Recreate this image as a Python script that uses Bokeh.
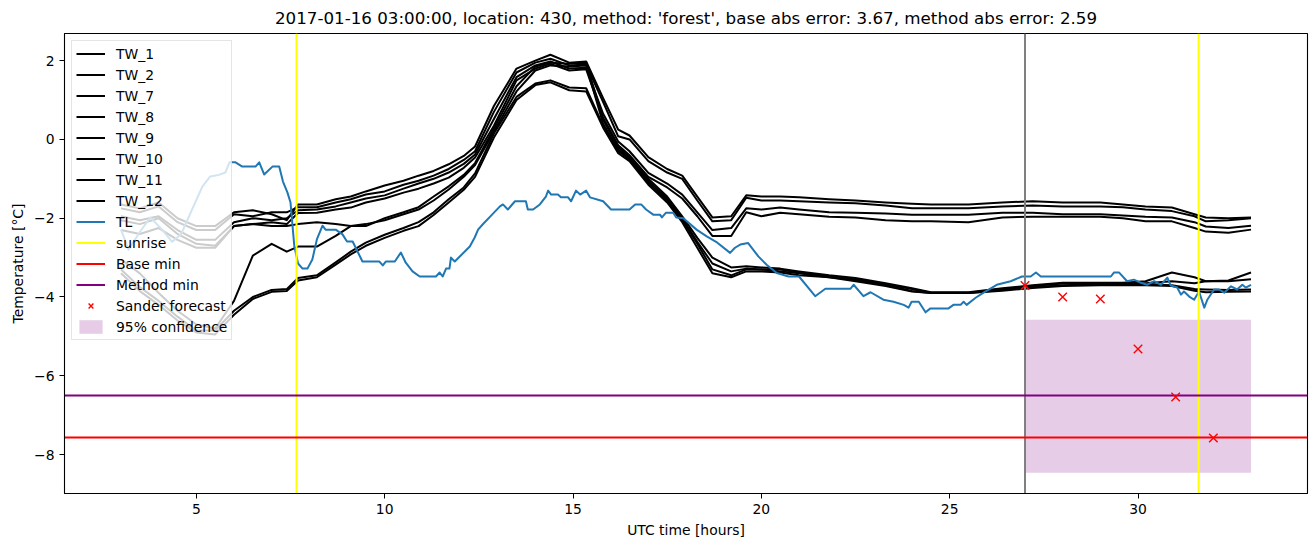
from bokeh.plotting import figure
from bokeh.models import Range1d, FixedTicker, Legend, LegendItem
from bokeh.embed import file_html
from bokeh.resources import INLINE

TITLE = "2017-01-16 03:00:00, location: 430, method: 'forest', base abs error: 3.67, method abs error: 2.59"

# ---- data (hours since 2017-01-15 00:00 UTC, temperatures in deg C) ----
TW_T = [3.0, 3.5, 4.0, 4.5, 5.0, 5.5, 6.0, 6.5, 7.0, 7.4, 7.7, 8.2, 8.7, 9.1, 9.5, 10.0,
        10.5, 10.9, 11.3, 11.7, 12.1, 12.4, 12.9, 13.5, 14.0, 14.4, 14.9, 15.35, 15.8,
        16.2, 16.5, 17.0, 17.5, 17.9, 18.3, 18.7, 19.2, 19.6, 20.0, 20.5, 21.0, 21.8,
        22.5, 23.3, 24.0, 24.5, 25.5, 26.4, 27.2, 28.0, 29.0, 29.6, 30.2, 30.9, 31.5,
        31.8, 32.4, 33.0]

TW_1 = [-1.65, -1.75, -1.6, -2.0, -2.2, -2.2, -1.85, -1.8, -1.9, -2.05, -1.65, -1.65, -1.52,
        -1.45, -1.32, -1.17, -1.05, -0.92, -0.8, -0.63, -0.42, -0.18, 0.85, 1.8, 2.0, 2.15,
        1.95, 1.98, 1.05, 0.25, 0.1, -0.45, -0.75, -0.92, -1.45, -1.98, -1.95, -1.42, -1.45,
        -1.45, -1.47, -1.52, -1.55, -1.6, -1.63, -1.65, -1.65, -1.6, -1.57, -1.6, -1.6, -1.65,
        -1.7, -1.73, -1.9, -1.98, -2.0, -1.98]
TW_2 = [-1.75, -1.85, -1.7, -2.1, -2.3, -2.3, -1.9, -1.95, -1.85, -1.85, -1.72, -1.72, -1.6,
        -1.52, -1.4, -1.32, -1.15, -1.05, -0.92, -0.75, -0.52, -0.3, 0.7, 1.7, 1.95, 2.05,
        1.88, 1.9, 0.95, 0.08, 0.0, -0.55, -0.84, -1.0, -1.55, -2.08, -2.05, -1.48, -1.55,
        -1.55, -1.57, -1.6, -1.62, -1.68, -1.75, -1.75, -1.75, -1.7, -1.68, -1.7, -1.7, -1.72,
        -1.78, -1.82, -1.95, -2.08, -2.05, -2.0]
TW_7 = [-1.95, -2.05, -1.95, -2.3, -2.55, -2.55, -2.1, -2.0, -2.05, -2.0, -1.8, -1.78, -1.7,
        -1.6, -1.5, -1.42, -1.25, -1.12, -1.0, -0.84, -0.62, -0.38, 0.52, 1.58, 1.88, 1.98,
        1.8, 1.82, 0.65, -0.05, -0.3, -0.85, -1.12, -1.4, -1.85, -2.3, -2.25, -1.75, -1.78,
        -1.73, -1.78, -1.85, -1.86, -1.88, -1.91, -1.91, -1.91, -1.86, -1.86, -1.9, -1.9,
        -1.93, -1.96, -1.98, -2.1, -2.21, -2.25, -2.19]
TW_8 = [-2.05, -2.15, -2.0, -2.4, -2.65, -2.7, -2.2, -2.15, -2.1, -2.15, -1.87, -1.86, -1.78,
        -1.73, -1.6, -1.5, -1.35, -1.25, -1.12, -0.97, -0.72, -0.46, 0.35, 1.5, 1.8, 1.92,
        1.75, 1.78, 0.55, -0.15, -0.4, -0.95, -1.22, -1.5, -1.95, -2.45, -2.45, -1.85, -1.95,
        -1.86, -1.9, -1.96, -1.98, -2.05, -2.08, -2.08, -2.1, -1.98, -1.96, -1.96, -1.96,
        -2.0, -2.08, -2.08, -2.25, -2.34, -2.37, -2.29]
TW_9 = [-3.05, -3.4, -3.9, -4.35, -4.7, -4.8, -4.1, -2.95, -2.65, -2.85, -2.72, -2.72, -2.45,
        -2.2, -2.2, -2.0, -1.85, -1.72, -1.45, -1.19, -0.9, -0.6, 0.28, 1.35, 1.85, 1.95,
        1.92, 1.95, 0.5, -0.2, -0.45, -1.0, -1.45, -1.95, -2.5, -3.0, -3.25, -3.22, -3.25,
        -3.28, -3.35, -3.45, -3.52, -3.65, -3.78, -3.88, -3.88, -3.78, -3.7, -3.64, -3.64,
        -3.64, -3.6, -3.38, -3.5, -3.6, -3.58, -3.38]
TW_10 = [-2.3, -2.4, -2.25, -2.55, -2.75, -2.75, -2.2, -2.15, -2.2, -2.2, -2.15, -2.1, -2.15,
         -2.2, -2.15, -2.05, -1.9, -1.78, -1.55, -1.27, -0.95, -0.65, 0.2, 1.22, 1.75, 1.88,
         1.85, 1.88, 0.4, -0.25, -0.5, -1.05, -1.5, -2.0, -2.6, -3.15, -3.35, -3.28, -3.3,
         -3.3, -3.38, -3.48, -3.55, -3.68, -3.8, -3.89, -3.89, -3.8, -3.72, -3.66, -3.65,
         -3.65, -3.65, -3.6, -3.65, -3.6, -3.6, -3.55]
TW_11 = [-3.3, -3.75, -4.1, -4.5, -4.85, -4.85, -4.35, -4.0, -3.82, -3.8, -3.52, -3.45, -3.12,
         -2.85, -2.62, -2.42, -2.25, -2.1, -1.85, -1.52, -1.22, -0.86, 0.15, 1.08, 1.42, 1.5,
         1.32, 1.3, 0.35, -0.3, -0.5, -1.1, -1.55, -2.05, -2.65, -3.3, -3.45, -3.3, -3.3,
         -3.35, -3.4, -3.5, -3.57, -3.7, -3.85, -3.9, -3.9, -3.82, -3.75, -3.7, -3.68, -3.68,
         -3.68, -3.7, -3.8, -3.81, -3.82, -3.81]
TW_12 = [-3.4, -3.85, -4.2, -4.6, -4.9, -4.95, -4.45, -4.05, -3.87, -3.85, -3.58, -3.5, -3.18,
         -2.92, -2.7, -2.5, -2.32, -2.2, -1.92, -1.6, -1.28, -0.95, 0.05, 1.0, 1.38, 1.45,
         1.25, 1.22, 0.3, -0.35, -0.55, -1.15, -1.6, -2.1, -2.75, -3.4, -3.5, -3.35, -3.35,
         -3.38, -3.45, -3.5, -3.6, -3.72, -3.86, -3.9, -3.9, -3.84, -3.77, -3.72, -3.7, -3.7,
         -3.7, -3.72, -3.84, -3.88, -3.87, -3.86]

TL_T = [3.0, 3.2, 3.5, 3.78, 4.1, 4.36, 4.6, 4.9, 5.16, 5.37, 5.6, 5.77, 5.88, 6.04, 6.22,
        6.57, 6.67, 6.8, 7.02, 7.2, 7.3, 7.42, 7.5, 7.6, 7.7, 7.82, 7.95, 8.08, 8.2, 8.35,
        8.43, 8.7, 8.88, 9.0, 9.15, 9.41, 9.86, 9.95, 10.03, 10.27, 10.43, 10.56, 10.74,
        10.93, 11.36, 11.46, 11.54, 11.63, 11.72, 11.76, 11.86, 12.26, 12.39, 12.48, 12.6,
        12.8, 13.06, 13.14, 13.27, 13.46, 13.75, 13.8, 13.94, 14.12, 14.28, 14.34, 14.42,
        14.6, 14.68, 14.87, 14.95, 15.08, 15.19, 15.35, 15.45, 15.8, 16.01, 16.5, 16.65,
        16.81, 16.94, 17.13, 17.31, 17.36, 17.47, 17.66, 17.74, 17.93, 18.28, 18.55, 18.8,
        19.17, 19.3, 19.44, 19.65, 19.92, 20.14, 20.41, 20.72, 21.0, 21.43, 21.7, 22.37,
        22.45, 22.71, 22.9, 23.24, 23.51, 23.78, 23.91, 23.99, 24.18, 24.36, 24.49, 24.97,
        25.1, 25.29, 25.37, 25.45, 25.69, 25.9, 26.25, 26.62, 26.92, 27.15, 27.29, 27.42,
        29.28, 29.36, 29.5, 29.71, 29.89, 30.08, 30.24, 30.43, 30.61, 30.78, 30.87, 31.04,
        31.14, 31.22, 31.36, 31.49, 31.62, 31.76, 31.84, 32.02, 32.15, 32.29, 32.47, 32.63,
        32.77, 32.86, 33.0]
TL = [-2.29, -2.8, -2.35, -1.98, -2.3, -2.6, -2.4, -1.75, -1.2, -0.94, -0.9, -0.84, -0.58,
      -0.58, -0.69, -0.69, -0.58, -0.89, -0.69, -0.69, -1.07, -1.35, -1.6, -2.7, -3.15,
      -3.28, -3.28, -3.05, -2.54, -2.19, -2.29, -2.29, -2.41, -2.59, -2.59, -3.1, -3.1,
      -3.2, -3.1, -3.1, -2.87, -3.13, -3.35, -3.48, -3.48, -3.38, -3.48, -3.28, -3.28,
      -3.0, -3.1, -2.72, -2.49, -2.29, -2.16, -1.96, -1.7, -1.65, -1.78, -1.57, -1.57,
      -1.78, -1.78, -1.65, -1.45, -1.3, -1.4, -1.4, -1.47, -1.47, -1.57, -1.3, -1.4, -1.3,
      -1.47, -1.57, -1.78, -1.78, -1.65, -1.65, -1.78, -1.91, -1.91, -1.98, -1.86, -1.86,
      -1.98, -2.0, -2.29, -2.46, -2.6, -2.88, -2.75, -2.67, -2.63, -2.97, -3.18, -3.39,
      -3.48, -3.48, -3.98, -3.79, -3.79, -3.69, -3.98, -3.88, -4.07, -4.12, -4.2, -4.27,
      -4.12, -4.12, -4.39, -4.29, -4.29, -4.2, -4.2, -4.12, -4.2, -4.02, -3.89, -3.69, -3.6,
      -3.48, -3.48, -3.38, -3.48, -3.48, -3.38, -3.38, -3.6, -3.56, -3.64, -3.69, -3.6,
      -3.69, -3.51, -3.71, -3.76, -3.94, -3.86, -3.99, -4.07, -3.86, -4.27, -4.07, -3.81,
      -3.81, -3.89, -3.73, -3.81, -3.69, -3.76, -3.69]

SUNRISE = [7.66, 31.61]
FORECAST_TIME = 27.0
BASE_MIN = -7.57
METHOD_MIN = -6.5
SANDER_T = [27, 28, 29, 30, 31, 32]
SANDER = [-3.71, -4.0, -4.05, -5.32, -6.54, -7.58]
CONF_START, CONF_END = 27.0, 33.0
CONF_LOW, CONF_HIGH = -8.46, -4.58

X_TICKS = [5, 10, 15, 20, 25, 30]
Y_TICKS = [-8, -6, -4, -2, 0, 2]
X_MIN, X_MAX = 1.5, 34.5
Y_MIN, Y_MAX = -8.99, 2.69

FONT = "DejaVu Sans"

p = figure(width=1310, height=545, output_backend="svg", toolbar_location=None,
           x_range=Range1d(X_MIN, X_MAX), y_range=Range1d(Y_MIN, Y_MAX),
           min_border_left=64, min_border_right=3, min_border_top=33,
           min_border_bottom=52)
p.title.text = TITLE
p.title.align = "center"
p.title.vertical_align = "middle"
p.title.text_font = FONT
p.title.text_font_size = "16.7px"
p.title.text_font_style = "normal"
p.title.text_color = "black"

p.xgrid.visible = False
p.ygrid.visible = False
p.outline_line_color = "black"
p.outline_line_alpha = 1.0
p.outline_line_width = 1.1

for ax in (p.xaxis, p.yaxis):
    ax.major_label_text_font = FONT
    ax.major_label_text_font_size = "13.9px"
    ax.major_label_text_color = "black"
    ax.axis_label_text_font = FONT
    ax.axis_label_text_font_size = "13.9px"
    ax.axis_label_text_font_style = "normal"
    ax.axis_label_text_color = "black"
    ax.major_tick_out = 5
    ax.major_tick_in = 0
    ax.minor_tick_out = 0
    ax.minor_tick_in = 0
    ax.axis_line_color = "black"
    ax.major_tick_line_color = "black"
p.xaxis.ticker = FixedTicker(ticks=X_TICKS)
p.yaxis.ticker = FixedTicker(ticks=Y_TICKS)
p.xaxis.axis_label = "UTC time [hours]"
p.yaxis.axis_label = "Temperature [°C]"

conf = p.quad(left=[CONF_START], right=[CONF_END], bottom=[CONF_LOW], top=[CONF_HIGH],
              fill_color="purple", fill_alpha=0.2, line_alpha=0)

items = []
for name, vals in [("TW_1", TW_1), ("TW_2", TW_2), ("TW_7", TW_7), ("TW_8", TW_8),
                   ("TW_9", TW_9), ("TW_10", TW_10), ("TW_11", TW_11), ("TW_12", TW_12)]:
    r = p.line(TW_T, vals, line_color="black", line_width=2, line_join="round")
    items.append(LegendItem(label=name, renderers=[r]))

r_tl = p.line(TL_T, TL, line_color="#1f77b4", line_width=2, line_join="round")
items.append(LegendItem(label="TL", renderers=[r_tl]))

p.segment(x0=[FORECAST_TIME], y0=[Y_MIN], x1=[FORECAST_TIME], y1=[Y_MAX],
          line_color="grey", line_width=2)
r_sun = p.segment(x0=SUNRISE, y0=[Y_MIN] * len(SUNRISE), x1=SUNRISE,
                  y1=[Y_MAX] * len(SUNRISE), line_color="yellow", line_width=2)
items.append(LegendItem(label="sunrise", renderers=[r_sun]))
r_base = p.segment(x0=[X_MIN], y0=[BASE_MIN], x1=[X_MAX], y1=[BASE_MIN],
                   line_color="red", line_width=2)
items.append(LegendItem(label="Base min", renderers=[r_base]))
r_meth = p.segment(x0=[X_MIN], y0=[METHOD_MIN], x1=[X_MAX], y1=[METHOD_MIN],
                   line_color="purple", line_width=2)
items.append(LegendItem(label="Method min", renderers=[r_meth]))
r_sander = p.scatter(SANDER_T, SANDER, marker="x", size=12, line_color="red", line_width=1.4)
items.append(LegendItem(label="Sander forecast", renderers=[r_sander]))
items.append(LegendItem(label="95% confidence", renderers=[conf]))

legend = Legend(items=items, location="top_left", margin=7, padding=4,
                spacing=4, glyph_width=29, glyph_height=17, label_height=17,
                label_standoff=11, label_text_font=FONT, label_text_font_size="13.9px",
                label_text_color="black",
                border_line_color="#cccccc", border_line_width=1,
                background_fill_alpha=0.8)
p.add_layout(legend)

open("out.html", "w").write(file_html(p, INLINE))
